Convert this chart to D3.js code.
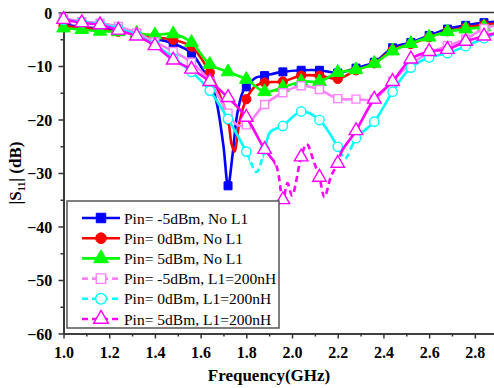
<!DOCTYPE html>
<html>
<head>
<meta charset="utf-8">
<script src="https://cdn.jsdelivr.net/npm/d3@7"></script>
<style>
  body { margin: 0; background: #fff; }
  svg { display: block; }
</style>
</head>
<body>
<svg id="chart"></svg>
<script>
// values: [frequency GHz, |S11| dB]
const pinM5NoL1 = [[1.00,-2.2],[1.08,-2.7],[1.16,-3.0],[1.24,-3.3],[1.32,-3.9],[1.40,-4.9],[1.48,-5.8],[1.56,-7.6],[1.62,-11.4],[1.64,-12.6],[1.67,-16.8],[1.70,-25.0],[1.72,-32.4],[1.74,-26.5],[1.76,-19.0],[1.785,-14.8],[1.80,-13.9],[1.84,-12.2],[1.88,-11.8],[1.96,-11.1],[2.04,-10.8],[2.12,-10.8],[2.20,-11.3],[2.28,-10.4],[2.36,-9.3],[2.44,-6.6],[2.52,-5.6],[2.60,-4.3],[2.68,-3.1],[2.76,-2.4],[2.84,-1.9],[2.92,-1.6]];
const pin0NoL1 = [[1.00,-2.5],[1.08,-2.9],[1.16,-3.2],[1.24,-3.6],[1.32,-4.0],[1.40,-4.6],[1.48,-5.1],[1.56,-6.4],[1.64,-11.2],[1.68,-15.0],[1.72,-20.0],[1.735,-24.5],[1.748,-26.0],[1.77,-20.5],[1.80,-16.2],[1.84,-13.8],[1.88,-13.1],[1.96,-12.9],[2.04,-11.8],[2.12,-11.8],[2.20,-12.4],[2.28,-10.8],[2.36,-9.5],[2.44,-7.0],[2.52,-5.9],[2.60,-4.6],[2.68,-3.5],[2.76,-2.8],[2.84,-2.3],[2.92,-2.0]];
const pin5NoL1 = [[1.00,-2.9],[1.08,-3.2],[1.16,-3.5],[1.24,-3.6],[1.32,-3.9],[1.40,-4.2],[1.48,-4.0],[1.56,-5.6],[1.64,-9.7],[1.72,-11.1],[1.80,-12.5],[1.88,-14.8],[1.96,-14.0],[2.04,-12.9],[2.12,-12.9],[2.20,-11.2],[2.28,-10.7],[2.36,-9.5],[2.44,-7.2],[2.52,-5.8],[2.60,-4.6],[2.68,-3.6],[2.76,-3.1],[2.84,-2.7],[2.92,-2.3]];
const pinM5L1 = [[1.00,-1.1],[1.08,-1.7],[1.16,-2.0],[1.24,-2.6],[1.32,-3.8],[1.40,-5.5],[1.48,-7.3],[1.56,-9.3],[1.64,-12.9],[1.72,-18.8],[1.76,-21.0],[1.80,-21.0],[1.88,-17.2],[1.96,-15.0],[2.04,-13.7],[2.12,-14.4],[2.20,-16.1],[2.28,-16.2],[2.36,-16.2],[2.44,-12.8],[2.52,-9.6],[2.60,-7.6],[2.68,-6.2],[2.76,-5.0],[2.84,-3.0],[2.92,-2.2]];
const pin0L1 = [[1.00,-1.4],[1.08,-1.8],[1.16,-2.2],[1.24,-3.0],[1.32,-4.2],[1.40,-6.0],[1.48,-8.5],[1.56,-11.1],[1.64,-14.6],[1.72,-19.9],[1.80,-26.0],[1.845,-29.8],[1.88,-25.6],[1.905,-22.3],[1.96,-21.2],[2.04,-18.5],[2.12,-20.1],[2.20,-25.1],[2.232,-27.3],[2.28,-23.5],[2.36,-20.4],[2.44,-14.8],[2.52,-10.3],[2.60,-8.4],[2.68,-7.6],[2.76,-6.3],[2.84,-4.8],[2.92,-3.4]];
const pin5L1 = [[1.00,-1.3],[1.08,-1.9],[1.16,-2.3],[1.24,-3.3],[1.32,-4.4],[1.40,-6.2],[1.48,-8.9],[1.56,-10.6],[1.64,-12.9],[1.72,-15.9],[1.80,-19.6],[1.88,-25.6],[1.93,-28.5],[1.96,-35.0],[1.98,-31.9],[2.00,-34.2],[2.04,-27.0],[2.064,-24.6],[2.098,-28.2],[2.12,-30.8],[2.142,-34.5],[2.17,-30.7],[2.20,-28.2],[2.217,-26.0],[2.28,-22.1],[2.36,-16.2],[2.44,-12.9],[2.52,-8.7],[2.60,-7.3],[2.68,-6.9],[2.76,-5.4],[2.84,-4.4],[2.92,-3.6]];

const legendLabels = ["Pin= -5dBm, No L1", "Pin= 0dBm, No L1", "Pin= 5dBm, No L1",
                      "Pin= -5dBm, L1=200nH", "Pin= 0dBm, L1=200nH", "Pin= 5dBm, L1=200nH"];
const xTicks = [1.0, 1.2, 1.4, 1.6, 1.8, 2.0, 2.2, 2.4, 2.6, 2.8];
const yTicks = [0, -10, -20, -30, -40, -50, -60];

const series = [
  {data: pinM5NoL1, color: "#0000ff", sym: d3.symbolSquare, open: false, dashed: false},
  {data: pin0NoL1,  color: "#ff0000", sym: d3.symbolCircle, open: false, dashed: false},
  {data: pin5NoL1,  color: "#00ff00", sym: d3.symbolTriangle, open: false, dashed: false},
  {data: pinM5L1,   color: "#ff80ff", sym: d3.symbolSquare, open: true, dashed: true, dashRanges: []},
  {data: pin0L1,    color: "#00ffff", sym: d3.symbolCircle, open: true, dashed: true, dashRanges: [[1.815, 1.872], [2.21, 2.262]]},
  {data: pin5L1,    color: "#ff00ff", sym: d3.symbolTriangle, open: true, dashed: true, dashRanges: [[1.928, 2.214]]}
];
series.forEach((s, i) => s.label = legendLabels[i]);

const W = 494, H = 388;
const serif = "'Liberation Serif', 'Times New Roman', Times, serif";
const svg = d3.select("#chart").attr("width", W).attr("height", H)
    .attr("font-family", serif);

const x = d3.scaleLinear().domain([1.0, 2.9]).range([63.5, 497.7]);
const y = d3.scaleLinear().domain([-60, 0]).range([333.5, 12.5]);

const axisColor = "#333";

// axes
const xAxis = svg.append("g").attr("transform", `translate(0,${y(-60)})`)
    .call(d3.axisBottom(x).tickValues(xTicks).tickFormat(d3.format(".1f")).tickSize(5).tickSizeOuter(0));
const xMinor = svg.append("g").attr("transform", `translate(0,${y(-60)})`)
    .call(d3.axisBottom(x).tickValues(d3.range(1.1, 2.9, 0.2)).tickFormat("").tickSize(3).tickSizeOuter(0));
const yAxis = svg.append("g").attr("transform", `translate(${x(1.0)},0)`)
    .call(d3.axisLeft(y).tickValues(yTicks).tickFormat(d3.format("d")).tickSize(5).tickSizeOuter(0));
const yMinor = svg.append("g").attr("transform", `translate(${x(1.0)},0)`)
    .call(d3.axisLeft(y).tickValues(d3.range(-55, 0, 10)).tickFormat("").tickSize(3).tickSizeOuter(0));

[xAxis, xMinor, yAxis, yMinor].forEach(g => {
  g.attr("font-family", serif);
  g.select(".domain").attr("stroke", axisColor).attr("stroke-width", 1.6);
  g.selectAll(".tick line").attr("stroke", axisColor).attr("stroke-width", 1.5);
  g.selectAll("text").attr("fill", "#000").attr("font-size", 16).attr("font-weight", "bold");
});
xAxis.selectAll("text").attr("dy", "1.05em");
yAxis.selectAll("text").attr("dx", "-0.2em").attr("dy", "0.35em");

svg.append("line")
    .attr("x1", x(1.0)).attr("x2", W).attr("y1", y(0)).attr("y2", y(0))
    .attr("stroke", axisColor).attr("stroke-width", 1.6);

// axis titles
svg.append("text").attr("x", 269).attr("y", 381).attr("text-anchor", "middle")
    .attr("font-size", 17).attr("font-weight", "bold").text("Frequency(GHz)");

const yt = svg.append("text").attr("transform", "translate(21,173) rotate(-90)")
    .attr("text-anchor", "middle").attr("font-size", 17).attr("font-weight", "bold");
yt.append("tspan").text("|S");
yt.append("tspan").attr("font-size", 10).attr("dy", 4).text("11");
yt.append("tspan").attr("dy", -4).text("| (dB)");

// clip paths for solid / dashed pieces
const defs = svg.append("defs");
function addClip(id, ranges) {
  const cp = defs.append("clipPath").attr("id", id);
  ranges.forEach(r => cp.append("rect")
      .attr("x", x(r[0])).attr("y", 0)
      .attr("width", x(r[1]) - x(r[0])).attr("height", H));
}

const line = d3.line()
    .x(d => x(d[0])).y(d => y(d[1]))
    .curve(d3.curveCatmullRom.alpha(0.5));

const onGrid = d => Math.abs((d[0] - 1) / 0.08 - Math.round((d[0] - 1) / 0.08)) < 1e-6;

series.forEach((s, i) => {
  const g = svg.append("g");
  const ranges = s.dashRanges || [];
  if (ranges.length) {
    // complement of dashed ranges
    const solid = [];
    let start = 0.9;
    ranges.forEach(r => { solid.push([start, r[0]]); start = r[1]; });
    solid.push([start, 3.1]);
    addClip("solid" + i, solid);
    addClip("dash" + i, ranges);
    g.append("path").attr("d", line(s.data)).attr("fill", "none")
        .attr("stroke", s.color).attr("stroke-width", 2.6)
        .attr("clip-path", `url(#solid${i})`);
    g.append("path").attr("d", line(s.data)).attr("fill", "none")
        .attr("stroke", s.color).attr("stroke-width", 2.6)
        .attr("stroke-dasharray", "6,4")
        .attr("clip-path", `url(#dash${i})`);
  } else {
    g.append("path").attr("d", line(s.data)).attr("fill", "none")
        .attr("stroke", s.color).attr("stroke-width", 2.6);
  }
  const symSize = s.sym === d3.symbolTriangle ? 80 : (s.sym === d3.symbolCircle ? 68 : 64);
  g.selectAll("path.mk").data(s.data.filter(onGrid)).join("path")
      .attr("class", "mk")
      .attr("transform", d => `translate(${x(d[0])},${y(d[1])})`)
      .attr("d", d3.symbol(s.sym, symSize))
      .attr("fill", s.open ? "#fff" : s.color)
      .attr("stroke", s.color).attr("stroke-width", s.open ? 1.4 : 1);
});

// legend
const lg = svg.append("g");
lg.append("rect").attr("x", 67).attr("y", 201).attr("width", 212).attr("height", 127)
    .attr("fill", "#fff").attr("stroke", "#555").attr("stroke-width", 1.5);
series.forEach((s, i) => {
  const ly = 218 + i * 20.2;
  lg.append("line").attr("x1", 82).attr("x2", 120).attr("y1", ly).attr("y2", ly)
      .attr("stroke", s.color).attr("stroke-width", 2.6)
      .attr("stroke-dasharray", s.dashed ? "6,4" : null);
  const symSize = s.sym === d3.symbolTriangle ? 95 : 90;
  lg.append("path").attr("transform", `translate(101,${ly})`)
      .attr("d", d3.symbol(s.sym, symSize))
      .attr("fill", s.open ? "#fff" : s.color)
      .attr("stroke", s.color).attr("stroke-width", s.open ? 1.4 : 1);
  lg.append("text").attr("x", 124).attr("y", ly + 5.5)
      .attr("font-size", 15.5).attr("fill", "#000").text(s.label);
});
</script>
</body>
</html>
